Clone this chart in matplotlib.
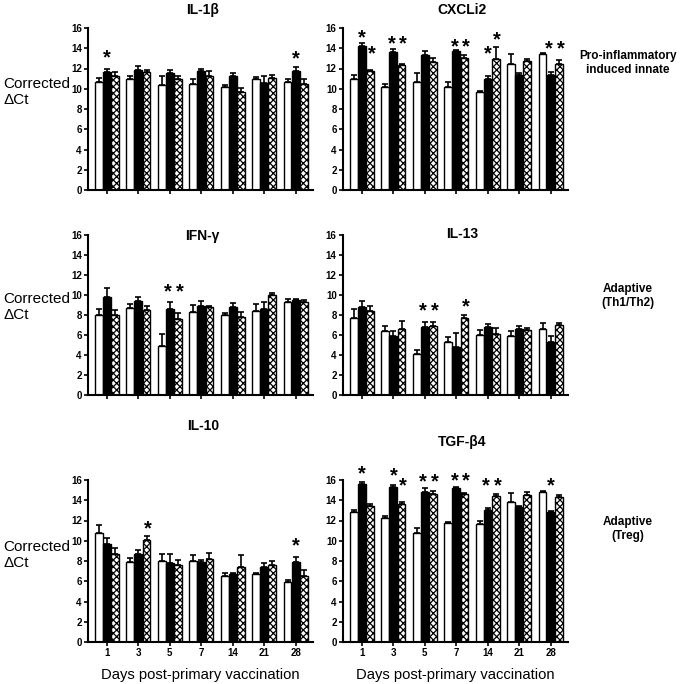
import matplotlib.pyplot as plt
import numpy as np

plt.rcParams['font.family'] = ['Liberation Sans', 'DejaVu Sans']
plt.rcParams['hatch.linewidth'] = 0.9

days = ['1', '3', '5', '7', '14', '21', '28']

# bar heights (white, black, checkered) and upper SEM for each panel
il1b_white = [10.7, 11.0, 10.4, 10.5, 10.2, 11.0, 10.7]
il1b_black = [11.7, 11.9, 11.6, 11.8, 11.3, 10.6, 11.8]
il1b_check = [11.3, 11.7, 11.0, 11.3, 9.7, 11.1, 10.5]
il1b_err_w = [0.35, 0.25, 0.9, 0.45, 0.2, 0.2, 0.3]
il1b_err_b = [0.3, 0.3, 0.3, 0.2, 0.3, 0.7, 0.3]
il1b_err_c = [0.4, 0.15, 0.3, 0.5, 0.4, 0.3, 0.5]

cxcl_white = [11.0, 10.2, 10.7, 10.2, 9.7, 12.4, 13.4]
cxcl_black = [14.2, 13.6, 13.3, 13.7, 11.0, 11.4, 11.4]
cxcl_check = [11.8, 12.3, 12.6, 13.0, 12.9, 12.7, 12.4]
cxcl_err_w = [0.4, 0.3, 0.9, 0.5, 0.05, 1.0, 0.1]
cxcl_err_b = [0.3, 0.3, 0.4, 0.1, 0.3, 0.2, 0.3]
cxcl_err_c = [0.1, 0.15, 0.4, 0.3, 1.2, 0.2, 0.4]

ifng_white = [8.0, 8.7, 4.9, 8.3, 8.0, 8.4, 9.3]
ifng_black = [9.8, 9.4, 8.6, 8.9, 8.8, 8.6, 9.5]
ifng_check = [8.0, 8.5, 7.6, 8.8, 7.8, 10.0, 9.3]
ifng_err_w = [0.6, 0.4, 1.2, 0.7, 0.2, 0.7, 0.3]
ifng_err_b = [0.9, 0.4, 0.7, 0.5, 0.4, 0.7, 0.1]
ifng_err_c = [0.5, 0.4, 0.6, 0.1, 0.5, 0.2, 0.2]

il13_white = [7.7, 6.4, 4.1, 5.3, 6.0, 5.9, 6.6]
il13_black = [8.8, 5.9, 6.8, 4.8, 6.8, 6.6, 5.3]
il13_check = [8.4, 6.6, 6.9, 7.7, 6.1, 6.5, 7.0]
il13_err_w = [0.9, 0.5, 0.4, 0.5, 0.5, 0.5, 0.6]
il13_err_b = [0.6, 0.5, 0.5, 1.4, 0.3, 0.3, 0.6]
il13_err_c = [0.5, 0.8, 0.4, 0.3, 0.6, 0.2, 0.2]

il10_white = [10.8, 7.9, 8.0, 8.0, 6.5, 6.7, 5.9]
il10_black = [9.7, 8.7, 7.8, 7.9, 6.7, 7.4, 7.9]
il10_check = [8.7, 10.1, 7.6, 8.2, 7.4, 7.6, 6.5]
il10_err_w = [0.8, 0.4, 0.7, 0.6, 0.3, 0.1, 0.2]
il10_err_b = [0.6, 0.4, 0.9, 0.2, 0.1, 0.4, 0.5]
il10_err_c = [0.6, 0.4, 0.5, 0.6, 1.2, 0.4, 0.6]

tgfb_white = [12.8, 12.2, 10.8, 11.8, 11.7, 13.8, 14.8]
tgfb_black = [15.6, 15.3, 14.8, 15.2, 13.0, 13.3, 12.8]
tgfb_check = [13.4, 13.6, 14.6, 14.6, 14.4, 14.5, 14.3]
tgfb_err_w = [0.2, 0.2, 0.5, 0.05, 0.3, 0.9, 0.1]
tgfb_err_b = [0.2, 0.2, 0.4, 0.15, 0.2, 0.1, 0.1]
tgfb_err_c = [0.2, 0.2, 0.3, 0.1, 0.2, 0.3, 0.2]

# significance stars: (day index, bars marked: 'b' black, 'c' check, 'bc' both, y)
il1b_stars = [(0, 'b', 13.5), (6, 'b', 13.4)]
cxcl_stars = [(0, 'b', 15.5), (0, 'c', 13.9), (1, 'bc', 14.9), (3, 'bc', 14.6),
              (4, 'b', 13.9), (4, 'c', 15.3), (6, 'bc', 14.4)]
ifng_stars = [(2, 'bc', 10.8)]
il13_stars = [(2, 'bc', 8.9), (3, 'c', 9.3)]
il10_stars = [(1, 'c', 11.7), (6, 'b', 10.0)]
tgfb_stars = [(0, 'b', 17.1), (1, 'b', 16.9), (1, 'c', 15.9), (2, 'bc', 16.3),
              (3, 'bc', 16.4), (4, 'bc', 15.9), (6, 'b', 15.9)]

panels = [
    ('IL-1β', [il1b_white, il1b_black, il1b_check], [il1b_err_w, il1b_err_b, il1b_err_c], il1b_stars),
    ('CXCLi2', [cxcl_white, cxcl_black, cxcl_check], [cxcl_err_w, cxcl_err_b, cxcl_err_c], cxcl_stars),
    ('IFN-γ', [ifng_white, ifng_black, ifng_check], [ifng_err_w, ifng_err_b, ifng_err_c], ifng_stars),
    ('IL-13', [il13_white, il13_black, il13_check], [il13_err_w, il13_err_b, il13_err_c], il13_stars),
    ('IL-10', [il10_white, il10_black, il10_check], [il10_err_w, il10_err_b, il10_err_c], il10_stars),
    ('TGF-β4', [tgfb_white, tgfb_black, tgfb_check], [tgfb_err_w, tgfb_err_b, tgfb_err_c], tgfb_stars),
]

fig = plt.figure(figsize=(6.85, 6.84), dpi=100)

W, H = 685, 684
col_x = [88, 343]
row_top = [28, 235, 480]
row_bot = [190, 395, 642]
title_y = [10, 236, 426]
title_y_right = [10, 234, 442]

offsets = [-0.26, 0.0, 0.26]
width = 0.25
x = np.arange(len(days))

for i, (name, vals, errs, stars) in enumerate(panels):
    r, c = divmod(i, 2)
    ax = fig.add_axes([col_x[c] / W, 1 - row_bot[r] / H, 225 / W, (row_bot[r] - row_top[r]) / H])
    styles = [dict(color='white', edgecolor='black'),
              dict(color='black', edgecolor='black'),
              dict(color='white', edgecolor='black', hatch='xxxxx')]
    for k in range(3):
        ax.bar(x + offsets[k], vals[k], width, linewidth=1.0, zorder=2, **styles[k])
        ax.errorbar(x + offsets[k], vals[k], yerr=[np.zeros(len(days)), errs[k]],
                    fmt='none', ecolor='black', elinewidth=1.2, capsize=2.2, capthick=1.2, zorder=1)
    for d, which, y in stars:
        if which == 'bc':
            mid = (offsets[1] + offsets[2]) / 2
            xs = [mid - 0.18, mid + 0.18]
        elif which == 'b':
            xs = [offsets[1]]
        else:
            xs = [offsets[2] + 0.04]
        for xo in xs:
            ax.annotate('*', (x[d] + xo, y), xytext=(0, -3.5), textcoords='offset points',
                        ha='center', va='center', fontsize=14.5, fontweight='bold',
                        annotation_clip=False)
    ax.set_xlim(-0.6, 6.55)
    ax.set_ylim(0, 16)
    ax.set_yticks(range(0, 17, 2))
    ax.set_xticks(x)
    if r == 2:
        ax.set_xticklabels(days, fontsize=7, fontweight='bold')
        ax.set_xlabel('Days post-primary vaccination', fontsize=10.6, labelpad=7)
    else:
        ax.set_xticklabels([])
    for lab in ax.get_yticklabels():
        lab.set_fontsize(7)
        lab.set_fontweight('bold')
    ax.spines['top'].set_visible(False)
    ax.spines['right'].set_visible(False)
    ax.spines['left'].set_linewidth(1.5)
    ax.spines['bottom'].set_linewidth(1.5)
    ax.tick_params(direction='out', length=3, width=1.2, pad=1.5)
    ty = title_y[r] if c == 0 else title_y_right[r]
    tx = (col_x[c] + 225 * (0.51 if c == 0 else 0.53)) / W
    fig.text(tx, 1 - ty / H, name, ha='center', va='center', fontsize=10, fontweight='bold')

# row labels
for yc in [92, 307, 555]:
    fig.text(3 / W, 1 - yc / H, 'Corrected\nΔCt', ha='left', va='center', fontsize=11,
             linespacing=1.25)

side_labels = [('Pro-inflammatory\ninduced innate', 63), ('Adaptive\n(Th1/Th2)', 296), ('Adaptive\n(Treg)', 529)]
for txt, yc in side_labels:
    fig.text(628 / W, 1 - yc / H, txt, ha='center', va='center', fontsize=8.5,
             fontweight='bold', linespacing=1.2)

plt.savefig('out.png', dpi=100)
